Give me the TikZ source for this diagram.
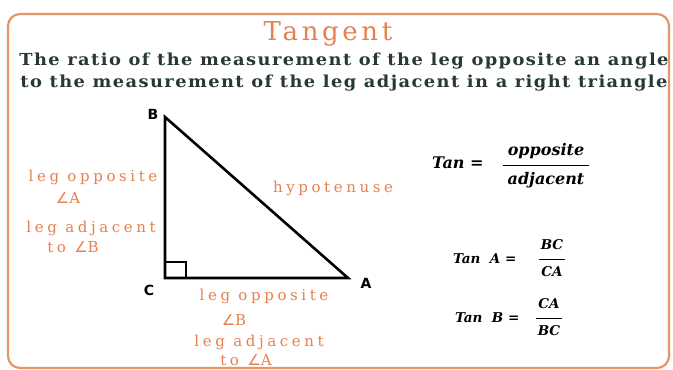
\documentclass[tikz,border=0pt]{standalone}
\usepackage{fontspec}
\usepackage{amsmath}
\setmainfont{DejaVu Serif}
\newfontfamily\headfont{DejaVu Serif}[LetterSpace=8]
\newfontfamily\lblfont{DejaVu Serif}[LetterSpace=24]
\newfontfamily\titlefont{DejaVu Serif}[LetterSpace=14]
\newfontfamily\eqfont{DejaVu Serif}
\newfontfamily\vtxfont{DejaVu Sans}
\newfontfamily\symfont{DejaVu Sans}
\definecolor{frameor}{RGB}{228,150,100}
\definecolor{txtor}{RGB}{232,128,78}
\definecolor{headdk}{RGB}{40,56,56}
\tikzset{
  lbl/.style={text=txtor, font=\lblfont\fontsize{15}{16}\selectfont, inner sep=0pt},
  vtx/.style={font=\vtxfont\bfseries\fontsize{14}{15}\selectfont, text=black, inner sep=0pt},
  hd/.style={text=headdk, font=\headfont\bfseries\fontsize{16.5}{18}\selectfont, inner sep=0pt},
  eq/.style={font=\eqfont\bfseries\itshape\fontsize{16}{18}\selectfont, inner sep=0pt},
  eqs/.style={font=\eqfont\bfseries\itshape\fontsize{13.5}{15}\selectfont, inner sep=0pt},
  edge/.style={line width=2.6pt, black}
}
\begin{document}
\begin{tikzpicture}[x=1pt,y=-1pt]
\useasboundingbox (0,0) rectangle (673,370);
\fill[white] (0,0) rectangle (673,370);
\draw[frameor, line width=2.2pt, rounded corners=12pt] (8,14) rectangle (669,368);
\node[text=txtor, font=\titlefont\fontsize{26}{28}\selectfont, inner sep=0pt] (title) at (328,34) {Tangent};
\node[hd] (h1) at (344,61) {\scalebox{1.08}[1]{The ratio of the measurement of the leg opposite an angle}};
\node[hd] (h2) at (344,83) {\scalebox{1.08}[1]{to the measurement of the leg adjacent in a right triangle}};
% triangle
\coordinate (B) at (165,117);
\coordinate (C) at (165,278);
\coordinate (A) at (348,278);
\draw[edge, line join=miter] (B) -- (C) -- (A) -- cycle;
\draw[line width=2.2pt] (165,262) -- (186,262) -- (186,278);
\node[vtx] (lB) at (153,114) {B};
\node[vtx] (lC) at (149,290) {C};
\node[vtx] (lA) at (366,283) {A};
\node[lbl] (l1) at (93,177) {leg opposite};
\node[lbl] (l2) at (68,198) {{\symfont ∠}A};
\node[lbl] (l3) at (91,228) {leg adjacent};
\node[lbl] (l4) at (73,247) {to {\symfont ∠}B};
\node[lbl] (hyp) at (333,188) {hypotenuse};
\node[lbl] (b1) at (264,296) {leg opposite};
\node[lbl] (b2) at (234,320) {{\symfont ∠}B};
\node[lbl] (b3) at (259,342) {leg adjacent};
\node[lbl] (b4) at (246,360) {to {\symfont ∠}A};
% equations
\node[eq, anchor=west] (tan) at (432,163) {Tan =};
\node[eq] (num) at (546,151) {opposite};
\node[eq] (den) at (546,180) {adjacent};
\draw[line width=0.8pt] (503,165) -- (589,165);
\node[eqs, anchor=west] (tanA) at (453,259) {Tan \ A =};
\node[eqs] (nA) at (552,245) {BC};
\node[eqs] (dA) at (552,272) {CA};
\draw[line width=0.8pt] (539,259) -- (565,259);
\node[eqs, anchor=west] (tanB) at (455,318) {Tan \ B =};
\node[eqs] (nB) at (549,304) {CA};
\node[eqs] (dB) at (549,331) {BC};
\draw[line width=0.8pt] (536,318) -- (562,318);
\end{tikzpicture}
\end{document}
